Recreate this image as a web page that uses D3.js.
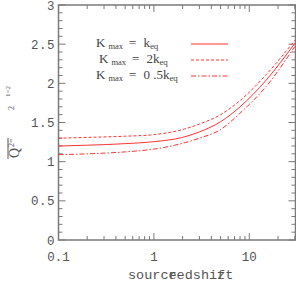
<!DOCTYPE html>
<html><head><meta charset="utf-8">
<script src="https://cdn.jsdelivr.net/npm/d3@7"></script>
<style>body{margin:0;background:#fff}svg{display:block}</style>
</head><body>
<script>
const redshift = [0.1, 0.2, 0.5, 1, 2, 3, 5, 8, 15, 30];
const kEq      = [1.20, 1.21, 1.23, 1.255, 1.31, 1.38, 1.51, 1.70, 2.04, 2.51];
const k2Eq     = [1.30, 1.31, 1.325, 1.345, 1.41, 1.48, 1.60, 1.78, 2.11, 2.55];
const kHalfEq  = [1.09, 1.10, 1.125, 1.16, 1.235, 1.30, 1.41, 1.62, 1.96, 2.47];
const yTicks = [0, 0.5, 1, 1.5, 2, 2.5, 3];
const xTicks = [0.1, 1, 10];
const xTickLabels = ["0.1", "1", "10"];
const legendPre = ["K", "K", "K"];
const legendVal = ["k", "2k", "0 .5k"];

const W = 296, H = 284;
const m = {l: 58.5, r: 295.5, t: 5, b: 240};
const svg = d3.select("body").append("svg").attr("width", W).attr("height", H);
const x = d3.scaleLog().domain([0.1, 30.5]).range([m.l, m.r]);
const y = d3.scaleLinear().domain([0, 3]).range([m.b, m.t]);

const axCol = "#7a7a7a", txtCol = "#555";
svg.append("rect").attr("x", m.l).attr("y", m.t).attr("width", m.r - m.l).attr("height", m.b - m.t)
  .attr("fill", "none").attr("stroke", axCol).attr("stroke-width", 1.5);

const yMinor = d3.range(0, 3.001, 0.1).map(v => +v.toFixed(1));
const tg = svg.append("g").attr("stroke", axCol).attr("stroke-width", 1);
yMinor.forEach(v => {
  const major = Math.abs(v * 2 - Math.round(v * 2)) < 1e-6;
  const len = major ? 7 : 4;
  tg.append("line").attr("x1", m.l).attr("x2", m.l + len).attr("y1", y(v)).attr("y2", y(v));
  tg.append("line").attr("x1", m.r).attr("x2", m.r - len).attr("y1", y(v)).attr("y2", y(v));
});
const xAll = [];
[0.1, 1, 10].forEach(d => { for (let k = 1; k <= 9; k++) { const v = d * k; if (v <= 30.5) xAll.push([v, k === 1]); } });
xAll.forEach(([v, major]) => {
  const len = major ? 7 : 4;
  tg.append("line").attr("x1", x(v)).attr("x2", x(v)).attr("y1", m.b).attr("y2", m.b - len);
  tg.append("line").attr("x1", x(v)).attr("x2", x(v)).attr("y1", m.t).attr("y2", m.t + len);
});

const mono = "'Liberation Mono', 'DejaVu Sans Mono', monospace";
const serif = "'Liberation Serif', 'DejaVu Serif', serif";
svg.append("g").selectAll("text").data(yTicks).join("text")
  .attr("x", 55).attr("y", d => y(d) + 4.5).attr("text-anchor", "end")
  .attr("font-family", mono).attr("font-size", 12.5).attr("fill", txtCol)
  .attr("letter-spacing", 0.5)
  .text(d => String(d));
svg.append("g").selectAll("text").data(xTicks).join("text")
  .attr("x", d => x(d)).attr("y", 261).attr("text-anchor", "middle")
  .attr("font-family", mono).attr("font-size", 12.5).attr("fill", txtCol)
  .text((d, i) => xTickLabels[i]);

const cw = 8.1;
const tt = svg.append("g").attr("font-family", mono).attr("font-size", 13.5).attr("fill", txtCol);
tt.append("text").attr("x", 128).attr("y", 279).text("source");
tt.append("text").attr("x", 128 + 5 * cw).attr("y", 279).text("redshift");
tt.append("text").attr("x", 128 + 11 * cw).attr("y", 279).text("z");

const yt = svg.append("g").attr("transform", "translate(19,160) rotate(-90)").attr("fill", txtCol).attr("font-family", serif);
yt.append("text").attr("x", 2).attr("y", 0).attr("font-size", 14).text("Q");
yt.append("line").attr("x1", 1).attr("x2", 22).attr("y1", -11).attr("y2", -11).attr("stroke", txtCol).attr("stroke-width", 1);
yt.append("text").attr("x", 13).attr("y", -5).attr("font-size", 8).text("2=");
yt.append("text").attr("x", 50).attr("y", -5).attr("font-size", 8).text("2");
yt.append("text").attr("x", 63).attr("y", -9).attr("font-size", 7).text("1=2");

const line = d3.line().x(d => x(d[0])).y(d => y(d[1])).curve(d3.curveMonotoneX);
const red = "#ff3333";
const series = [[kEq, null], [k2Eq, "3,2"], [kHalfEq, "5,2,1.5,2"]];
series.forEach(([vals, dash]) => {
  svg.append("path").datum(redshift.map((z, i) => [z, vals[i]]))
    .attr("d", line).attr("fill", "none").attr("stroke", red).attr("stroke-width", 1)
    .attr("stroke-dasharray", dash);
});

const lg = svg.append("g").attr("font-family", serif).attr("fill", "#444");
const ly = [47, 63, 79];
const lx = [96, 99, 96];
series.forEach(([vals, dash], i) => {
  const t = lg.append("text").attr("x", lx[i]).attr("y", ly[i]).attr("font-size", 13);
  t.append("tspan").text(legendPre[i]);
  t.append("tspan").attr("font-size", 8.5).attr("dx", 3).attr("dy", 2).text("max");
  t.append("tspan").attr("dx", 6).attr("dy", -2).text("=");
  t.append("tspan").attr("dx", 7).text(legendVal[i]);
  t.append("tspan").attr("font-size", 9).attr("dy", 2).text("eq");
  svg.append("line").attr("x1", 191).attr("x2", 228).attr("y1", ly[i] - 3).attr("y2", ly[i] - 3)
    .attr("stroke", red).attr("stroke-width", 1).attr("stroke-dasharray", dash);
});
</script>
</body></html>
